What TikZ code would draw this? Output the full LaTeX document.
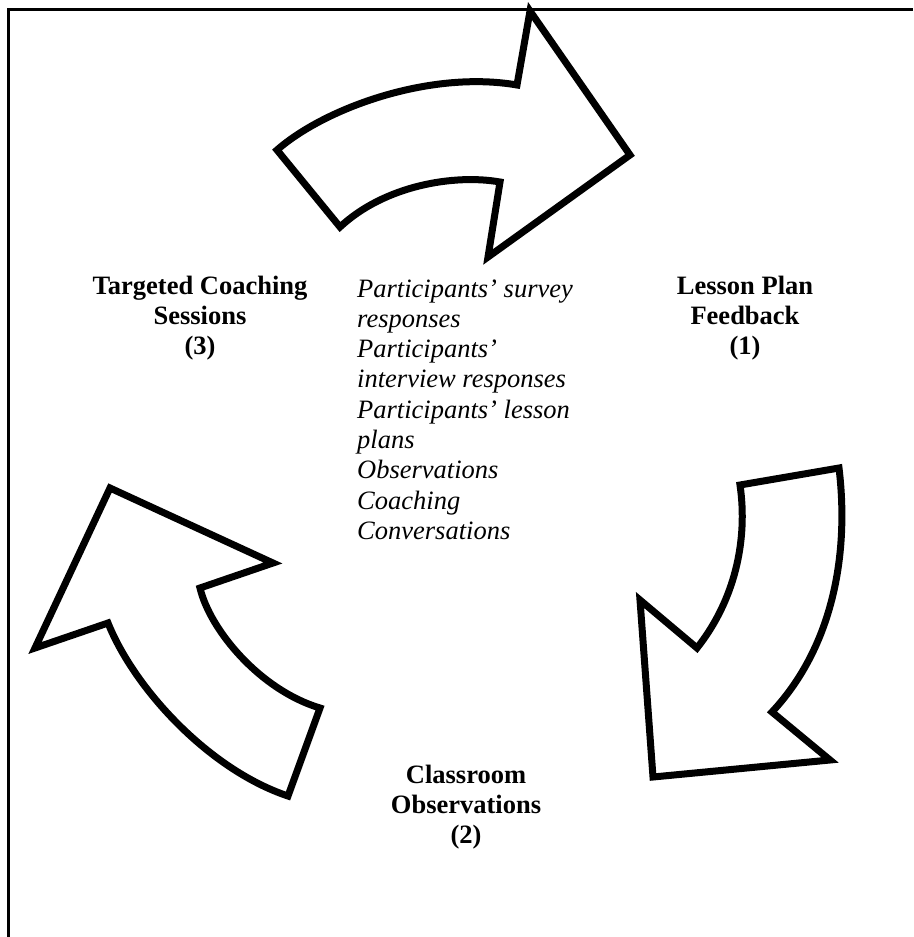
\documentclass[tikz,border=0pt]{standalone}
\usepackage{fontspec}
\setmainfont{Liberation Serif}
\begin{document}
\begin{tikzpicture}[x=1pt,y=-1pt,
  bigarrow/.style={draw=black,fill=white,line width=7pt,line join=miter,miter limit=10},
  frame/.style={draw=black,line width=3pt},
  lbl/.style={inner sep=0pt,font=\fontsize{26.5}{30}\selectfont\bfseries},
  src/.style={inner sep=0pt,font=\fontsize{26.5}{30.3}\selectfont\itshape}]
\useasboundingbox (0,0) rectangle (913,937);

% open frame: left and top edges only
\coordinate (fbl) at (8,937);
\coordinate (ftl) at (8,9);
\coordinate (ftr) at (913,9);
\draw[frame] (fbl) -- (ftl) -- (ftr);

% curved block arrow at the top, pointing right
\path[bigarrow] (277,150) .. controls (325,108) and (430,70) .. (517,85)
  -- (530,11) -- (630,155) -- (488,257) -- (500,182)
  .. controls (455,174) and (385,185) .. (340,227) -- cycle;

% curved block arrow on the right, pointing down
\path[bigarrow] (740,485) -- (839,468)
  .. controls (850,560) and (830,650) .. (772,712)
  -- (830,760) -- (653,777) -- (640,600) -- (697,648)
  .. controls (735,600) and (748,540) .. (740,485) -- cycle;

% curved block arrow on the left, pointing up
\path[bigarrow] (110,488) -- (273,563) -- (200,588)
  .. controls (210,630) and (260,690) .. (320,708)
  -- (288,796)
  .. controls (210,770) and (135,690) .. (108,623)
  -- (35,648) -- cycle;

% stage labels
\node[lbl,anchor=base] (stage3) at (200,294)
  {\begin{tabular}[t]{@{}c@{}}Targeted Coaching\\Sessions\\(3)\end{tabular}};
\node[lbl,anchor=base] (stage1) at (745,294)
  {\begin{tabular}[t]{@{}c@{}}Lesson Plan\\Feedback\\(1)\end{tabular}};
\node[lbl,anchor=base] (stage2) at (466,783)
  {\begin{tabular}[t]{@{}c@{}}Classroom\\Observations\\(2)\end{tabular}};

% data sources in the centre
\node[src,anchor=base west] (data) at (357,297)
  {\begin{tabular}[t]{@{}l@{}}Participants’ survey\\responses\\Participants’\\interview responses\\Participants’ lesson\\plans\\Observations\\Coaching\\Conversations\end{tabular}};
\end{tikzpicture}
\end{document}
